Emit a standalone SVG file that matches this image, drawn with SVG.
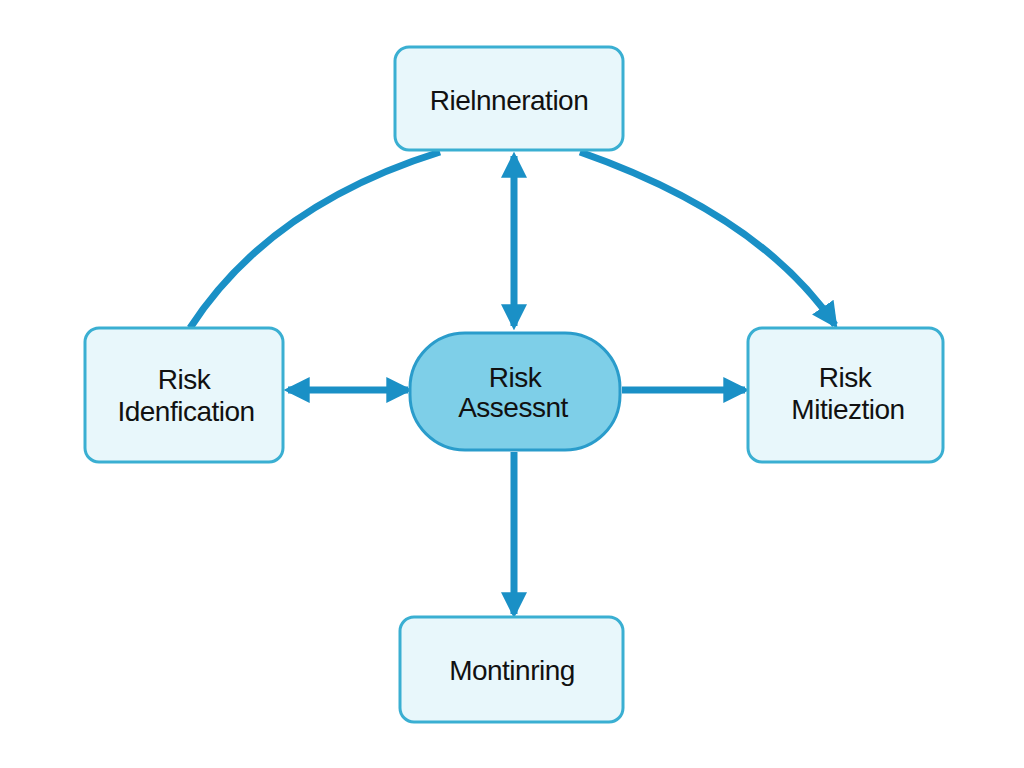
<svg xmlns="http://www.w3.org/2000/svg" width="1024" height="768" viewBox="0 0 1024 768">
<style>
.box{fill:#e8f7fb;stroke:#3aafd2;stroke-width:3}
.pill{fill:#7ecfe8;stroke:#2a9ccb;stroke-width:3}
.t{font-family:"Liberation Sans",Arial,sans-serif;font-size:28px;fill:#111;text-anchor:middle;letter-spacing:-0.5px}
.c{fill:none;stroke:#1a90c6;stroke-width:7}
</style>
<defs>
<marker id="a" markerUnits="userSpaceOnUse" markerWidth="26" markerHeight="26" refX="20" refY="12" orient="auto-start-reverse" viewBox="0 0 24 24">
<path d="M0,0 L24,12 L0,24 Z" fill="#1a90c6"/>
</marker>
</defs>
<rect width="1024" height="768" fill="#ffffff"/>
<g id="connectors">
<path class="c" d="M440,152 Q270,205 190,328"/>
<path class="c" d="M580,152 Q760,215 835,325" marker-end="url(#a)"/>
<path class="c" d="M514,156 L514,326" marker-start="url(#a)" marker-end="url(#a)"/>
<path class="c" d="M288,390 L408,390" marker-start="url(#a)" marker-end="url(#a)"/>
<path class="c" d="M622,390 L745,390" marker-end="url(#a)"/>
<path class="c" d="M514,452 L514,614" marker-end="url(#a)"/>
</g>
<g id="top"><rect class="box" x="395" y="47" width="228" height="103" rx="14"/><text class="t" x="509" y="110">Rielnneration</text></g>
<g id="left"><rect class="box" x="85" y="328" width="198" height="134" rx="14"/><text class="t" x="184" y="389">Risk</text><text class="t" x="186" y="421">Idenfication</text></g>
<g id="center"><rect class="pill" x="410" y="333" width="210" height="117" rx="55"/><text class="t" x="515" y="387">Risk</text><text class="t" x="513" y="417">Assessnt</text></g>
<g id="right"><rect class="box" x="748" y="328" width="195" height="134" rx="14"/><text class="t" x="845" y="387">Risk</text><text class="t" x="848" y="419">Mitieztion</text></g>
<g id="bottom"><rect class="box" x="400" y="617" width="223" height="105" rx="14"/><text class="t" x="512" y="680">Montinring</text></g>
</svg>
